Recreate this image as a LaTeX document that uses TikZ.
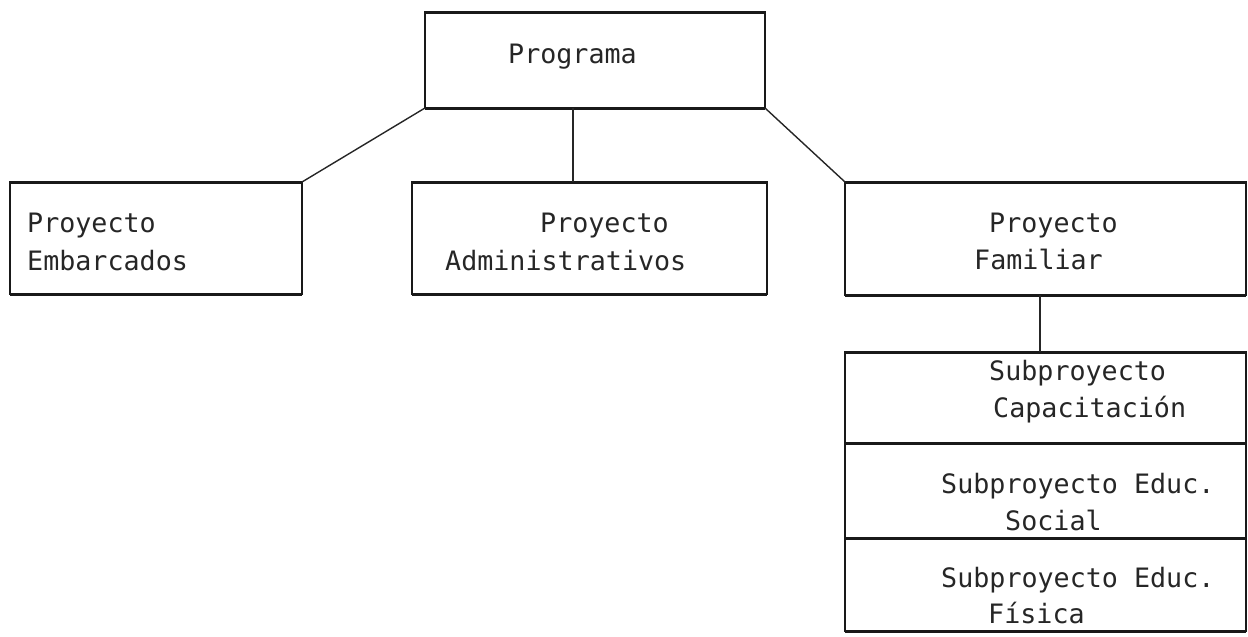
\documentclass[tikz,border=0pt]{standalone}
\usepackage{fontspec}
\setmonofont{DejaVu Sans Mono}
\begin{document}
\begin{tikzpicture}[x=1pt,y=-1pt,
  box/.style={draw=black!90, line width=1.8pt, rectangle, inner sep=0pt, outer sep=0pt},
  hedge/.style={draw=black!90, line width=3pt},
  conn/.style={draw=black!85, line width=1.4pt},
  txt/.style={anchor=base west, inner sep=0pt, text=black!85, font=\ttfamily\fontsize{26.7}{32}\selectfont}]
\useasboundingbox (0,0) rectangle (1248,637);
% boxes
\node[box, minimum width=340pt, minimum height=96pt] (prog) at (595,60) {};
\node[box, minimum width=292pt, minimum height=112pt] (emb) at (156,238) {};
\node[box, minimum width=355pt, minimum height=112pt] (adm) at (589.5,238) {};
\node[box, minimum width=401pt, minimum height=113pt] (fam) at (1045.5,238.5) {};
\node[box, minimum width=401pt, minimum height=91pt] (sub1) at (1045.5,397.5) {};
\node[box, minimum width=401pt, minimum height=95pt] (sub2) at (1045.5,490.5) {};
\node[box, minimum width=401pt, minimum height=93pt] (sub3) at (1045.5,584.5) {};
\foreach \n in {prog,emb,adm,fam,sub1,sub2,sub3}{
  \draw[hedge] (\n.north west) -- (\n.north east);
  \draw[hedge] (\n.south west) -- (\n.south east);
}
% texts
\node[txt] (tprog) at (508,63) {Programa};
\node[txt] (temb1) at (27,232) {Proyecto};
\node[txt] (temb2) at (27,270) {Embarcados};
\node[txt] (tadm1) at (540,232) {Proyecto};
\node[txt] (tadm2) at (445,270) {Administrativos};
\node[txt] (tfam1) at (989,232) {Proyecto};
\node[txt] (tfam2) at (974,269) {Familiar};
\node[txt] (ts11) at (989,380) {Subproyecto};
\node[txt] (ts12) at (993,417) {Capacitación};
\node[txt] (ts21) at (941,493) {Subproyecto Educ.};
\node[txt] (ts22) at (1005,530) {Social};
\node[txt] (ts31) at (941,587) {Subproyecto Educ.};
\node[txt] (ts32) at (988,623) {Física};
% connectors
\draw[conn] (prog.south west) -- (emb.north east);
\draw[conn] ([xshift=-16.5pt]adm.north) -- ([xshift=-16.5pt]adm.north |- prog.south);
\draw[conn] (prog.south east) -- (fam.north west);
\draw[conn] ([xshift=-5.5pt]fam.south) -- ([xshift=-5.5pt]sub1.north);
\end{tikzpicture}
\end{document}
